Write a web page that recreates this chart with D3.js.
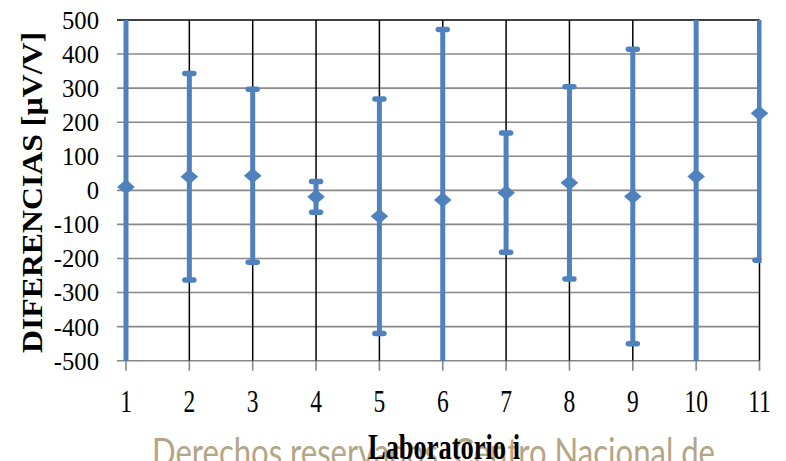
<!DOCTYPE html>
<html>
<head>
<meta charset="utf-8">
<script src="https://cdn.jsdelivr.net/npm/d3@7"></script>
<style>
  html, body { margin: 0; padding: 0; background: #fff; }
  svg { display: block; }
</style>
</head>
<body>
<svg id="chart" width="786" height="461"></svg>
<script>
// Laboratories and their differences with expanded uncertainty (µV/V)
const labs = [1, 2, 3, 4, 5, 6, 7, 8, 9, 10, 11];
const diffs = [10, 40, 43, -19, -76, -28, -7, 22, -18, 41, 226];
const uncert = [560, 303, 254, 45, 344, 500, 175, 282, 432, 570, 431];
const yTicks = [-500, -400, -300, -200, -100, 0, 100, 200, 300, 400, 500];

const blue = "#4f81bd";
const svg = d3.select("#chart");

const x = d3.scaleLinear().domain([1, 11]).range([126, 759.5]);
const y = d3.scaleLinear().domain([-500, 500]).range([360.7, 20]);

// horizontal gridlines (with outside tick stubs on the left)
svg.append("g").selectAll("line").data(yTicks).join("line")
  .attr("x1", 117).attr("x2", x(11))
  .attr("y1", d => y(d)).attr("y2", d => y(d))
  .attr("stroke", d => d === 500 ? "#000" : "#888")
  .attr("stroke-width", 1.6);

// vertical gridlines at each laboratory
svg.append("g").selectAll("line").data(labs).join("line")
  .attr("x1", d => x(d)).attr("x2", d => x(d))
  .attr("y1", y(500)).attr("y2", y(-500))
  .attr("stroke", "#000").attr("stroke-width", 1.5);

// bottom axis tick marks
svg.append("g").selectAll("line").data(labs).join("line")
  .attr("x1", d => x(d)).attr("x2", d => x(d))
  .attr("y1", y(-500)).attr("y2", y(-500) + 10)
  .attr("stroke", "#888").attr("stroke-width", 1.6);

// y tick labels
svg.append("g").selectAll("text").data(yTicks).join("text")
  .attr("x", 99).attr("y", d => y(d)).attr("dy", "0.36em")
  .attr("text-anchor", "end")
  .attr("font-family", "'Liberation Serif', 'Times New Roman', serif")
  .attr("font-size", 24.7).attr("fill", "#000")
  .text(d => d);

// x tick labels
svg.append("g").selectAll("text").data(labs).join("text")
  .attr("transform", d => `translate(${x(d)},412) scale(1,1.38)`)
  .attr("text-anchor", "middle")
  .attr("font-family", "'Liberation Serif', 'Times New Roman', serif")
  .attr("font-size", 23.5).attr("fill", "#000")
  .text(d => d);

// error bars, clipped to the plot area
svg.append("defs").append("clipPath").attr("id", "plotClip")
  .append("rect").attr("x", 118).attr("y", y(500)).attr("width", x(11) + 2 - 118).attr("height", y(-500) - y(500));

const err = svg.append("g").attr("clip-path", "url(#plotClip)");
const rows = labs.map((l, i) => ({ lab: l, v: diffs[i], u: uncert[i] }));

err.selectAll("line.bar").data(rows).join("line").attr("class", "bar")
  .attr("x1", d => x(d.lab)).attr("x2", d => x(d.lab))
  .attr("y1", d => y(d.v + d.u)).attr("y2", d => y(d.v - d.u))
  .attr("stroke", blue).attr("stroke-width", 5);

const caps = [];
rows.forEach(d => {
  [d.v + d.u, d.v - d.u].forEach(e => { if (e >= -500 && e <= 500) caps.push({ lab: d.lab, e }); });
});
err.selectAll("line.cap").data(caps).join("line").attr("class", "cap")
  .attr("x1", d => x(d.lab) - 4.5).attr("x2", d => x(d.lab) + 4.5)
  .attr("y1", d => y(d.e)).attr("y2", d => y(d.e))
  .attr("stroke", blue).attr("stroke-width", 5.5).attr("stroke-linecap", "round");

// diamond markers
svg.append("g").selectAll("path").data(rows).join("path")
  .attr("transform", d => `translate(${x(d.lab)},${y(d.v)})`)
  .attr("d", "M0,-7.6 L8.8,0 L0,7.6 L-8.8,0 Z")
  .attr("fill", blue);

// y axis title
svg.append("text")
  .attr("transform", "translate(42,192.5) rotate(-90)")
  .attr("text-anchor", "middle")
  .attr("font-family", "'Liberation Serif', 'Times New Roman', serif")
  .attr("font-weight", "bold").attr("font-size", 28.7)
  .attr("textLength", 321).attr("lengthAdjust", "spacingAndGlyphs")
  .text("DIFERENCIAS [µV/V]");

// notice line along the bottom
svg.append("text")
  .attr("transform", "translate(152,466) scale(1,1.38)")
  .attr("font-family", "Lato, 'Open Sans', sans-serif")
  .attr("font-size", 28).attr("fill", "#b3a585")
  .attr("textLength", 563).attr("lengthAdjust", "spacingAndGlyphs")
  .text("Derechos reservados. Centro Nacional de");

// x axis title
svg.append("text")
  .attr("transform", "translate(368,459) scale(1,1.38)")
  .attr("font-family", "'Liberation Serif', 'Times New Roman', serif")
  .attr("font-weight", "bold").attr("font-size", 26.4)
  .attr("textLength", 152).attr("lengthAdjust", "spacingAndGlyphs")
  .text("Laboratorio i");
</script>
</body>
</html>
